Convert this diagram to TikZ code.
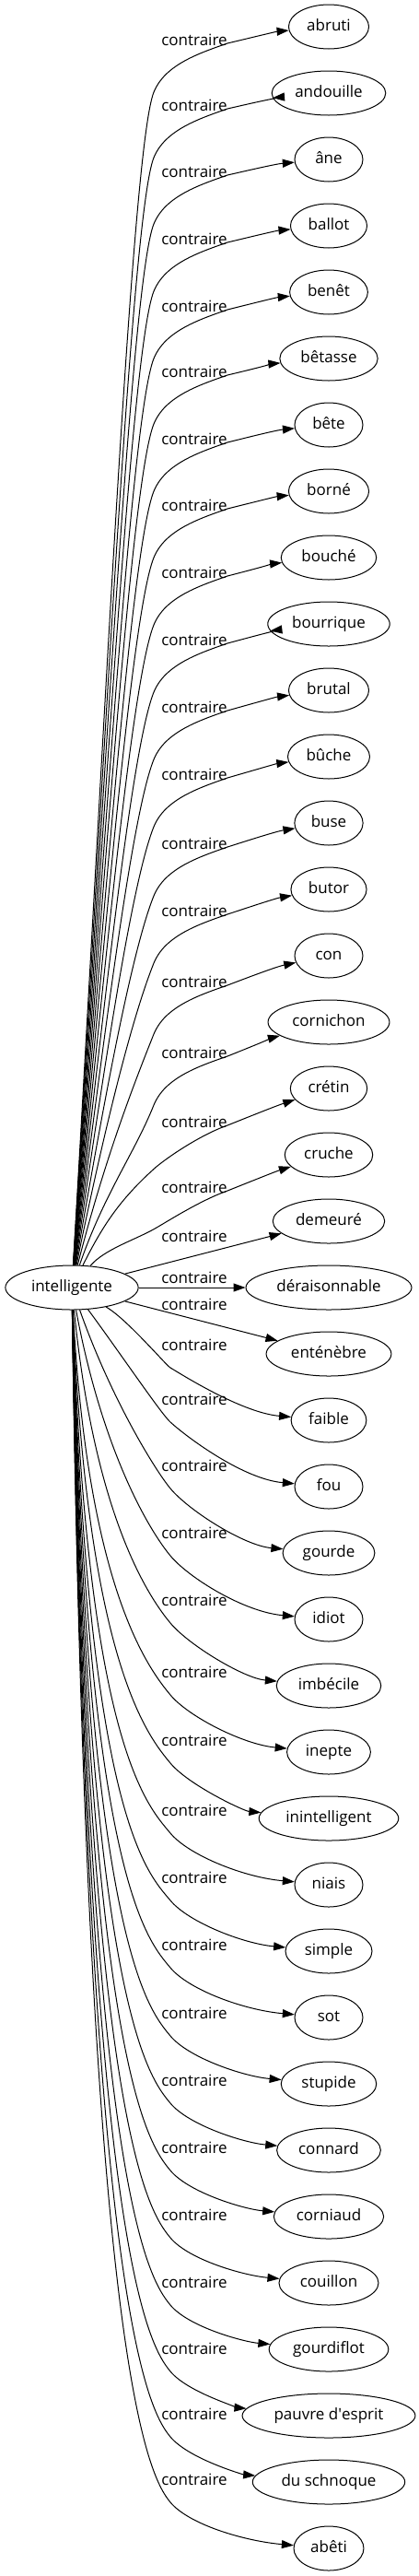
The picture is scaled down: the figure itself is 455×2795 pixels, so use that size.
\documentclass[tikz,border=0pt]{standalone}
\usepackage{fontspec}
\setmainfont{Open Sans}
\usetikzlibrary{arrows.meta,shapes.geometric}
\tikzset{
  mot/.style={draw, ellipse, line width=1pt, inner xsep=7pt, inner ysep=2pt,
    minimum width=74pt, minimum height=48pt, text height=12.5pt, text depth=3.5pt,
    font=\fontsize{17}{20}\selectfont},
  rel/.style={inner sep=0pt, font=\fontsize{17}{20}\selectfont},
  contra/.style={line width=1pt, -{Triangle[length=13pt,width=9pt]}}
}

\begin{document}
\begin{tikzpicture}[x=1pt, y=-1pt]
  \useasboundingbox (0,0) rectangle (455,2795);

  % source word
  \node[mot] (intelligente) at (78,1397) {intelligente};

  % opposites, top to bottom
  \node[mot] (abruti) at (357,29) {abruti};
  \node[mot] (andouille) at (357,101) {andouille};
  \node[mot] (ane) at (357,173) {âne};
  \node[mot] (ballot) at (357,245) {ballot};
  \node[mot] (benet) at (357,317) {benêt};
  \node[mot] (betasse) at (357,389) {bêtasse};
  \node[mot] (bete) at (357,461) {bête};
  \node[mot] (borne) at (357,533) {borné};
  \node[mot] (bouche) at (357,605) {bouché};
  \node[mot] (bourrique) at (357,677) {bourrique};
  \node[mot] (brutal) at (357,749) {brutal};
  \node[mot] (buche) at (357,821) {bûche};
  \node[mot] (buse) at (357,893) {buse};
  \node[mot] (butor) at (357,965) {butor};
  \node[mot] (con) at (357,1037) {con};
  \node[mot] (cornichon) at (357,1109) {cornichon};
  \node[mot] (cretin) at (357,1181) {crétin};
  \node[mot] (cruche) at (357,1253) {cruche};
  \node[mot] (demeure) at (357,1325) {demeuré};
  \node[mot] (deraisonnable) at (357,1397) {déraisonnable};
  \node[mot] (entenebre) at (357,1469) {enténèbre};
  \node[mot] (faible) at (357,1541) {faible};
  \node[mot] (fou) at (357,1613) {fou};
  \node[mot] (gourde) at (357,1685) {gourde};
  \node[mot] (idiot) at (357,1757) {idiot};
  \node[mot] (imbecile) at (357,1829) {imbécile};
  \node[mot] (inepte) at (357,1901) {inepte};
  \node[mot] (inintelligent) at (357,1973) {inintelligent};
  \node[mot] (niais) at (357,2045) {niais};
  \node[mot] (simple) at (357,2117) {simple};
  \node[mot] (sot) at (357,2189) {sot};
  \node[mot] (stupide) at (357,2261) {stupide};
  \node[mot] (connard) at (357,2333) {connard};
  \node[mot] (corniaud) at (357,2405) {corniaud};
  \node[mot] (couillon) at (357,2477) {couillon};
  \node[mot] (gourdiflot) at (357,2549) {gourdiflot};
  \node[mot] (pauvre) at (357,2621) {pauvre d\textquotesingle esprit};
  \node[mot] (schnoque) at (357,2693) {du schnoque};
  \node[mot] (abeti) at (357,2765) {abêti};

  % edges going up
  \foreach \cible/\cy/\ry in {abruti/29/43, andouille/101/114, ane/173/186,
      ballot/245/259, benet/317/332, betasse/389/403, bete/461/476, borne/533/548,
      bouche/605/621, bourrique/677/694, brutal/749/767, buche/821/840, buse/893/915,
      butor/965/988, con/1037/1065, cornichon/1109/1142, cretin/1181/1217,
      cruche/1253/1288}{
    \node[rel] (c-\cible) at (211,\ry) {contraire};
    \pgfmathsetmacro{\dd}{1397-\ry}
    \pgfmathsetmacro{\tx}{0.4+max(0,250-\dd)*0.01}
    \pgfmathsetmacro{\bby}{\ry+57-max(0,250-\dd)*0.08}
    \pgfmathsetmacro{\hh}{min(60,0.3*(1374-\bby))}
    \pgfmathsetmacro{\ay}{1374-0.45*(1374-\bby)}
    \pgfmathsetmacro{\px}{167-\hh*\tx}
    \pgfmathsetmacro{\py}{\bby+\hh}
    \pgfmathsetmacro{\qy}{\bby-12/\tx}
    \pgfmathsetmacro{\sl}{min(0.4,(\ry-\cy)/100+0.1)}
    \pgfmathsetmacro{\ra}{\ry+4-20*\sl}
    \pgfmathsetmacro{\rb}{\ry+4-53*\sl}
    \draw[contra] (intelligente) .. controls (113,\ay) and (\px,\py) .. (167,\bby)
      .. controls (179,\qy) and (217,\ry+14.5) .. (247,\ry+4)
      .. controls (267,\ra) and (300,\rb) .. (\cible);
  }

  % the three middle edges
  \node[rel] (c-demeure) at (211,1341) {contraire};
  \node[rel] (c-deraisonnable) at (211,1386) {contraire};
  \node[rel] (c-entenebre) at (211,1415) {contraire};
  \draw[contra] (intelligente) -- (demeure);
  \draw[contra] (intelligente) -- (deraisonnable);
  \draw[contra] (intelligente) -- (entenebre);

  % edges going down
  \foreach \cible/\cy/\ry in {faible/1541/1459, fou/1613/1518, gourde/1685/1590,
      idiot/1757/1663, imbecile/1829/1736, inepte/1901/1814, inintelligent/1973/1888,
      niais/2045/1964, simple/2117/2037, sot/2189/2110, stupide/2261/2184,
      connard/2333/2257, corniaud/2405/2330, couillon/2477/2403, gourdiflot/2549/2476,
      pauvre/2621/2548, schnoque/2693/2619, abeti/2765/2690}{
    \node[rel] (c-\cible) at (211,\ry) {contraire};
    \pgfmathsetmacro{\dd}{\ry-1397}
    \pgfmathsetmacro{\ax}{95+50*max(0,1-\dd/400)}
    \pgfmathsetmacro{\ay}{1397+(0.5+0.4*min(1,\dd/600))*\dd}
    \pgfmathsetmacro{\ss}{25*min(1,\dd/300)}
    \pgfmathsetmacro{\kk}{min(1.2,0.3+\dd/200)}
    \pgfmathsetmacro{\px}{185-\ss}
    \pgfmathsetmacro{\py}{\ry+25-\ss*\kk}
    \pgfmathsetmacro{\qa}{\ry+25+20*\kk}
    \draw[contra] (intelligente) .. controls (\ax,\ay) and (\px,\py) .. (185,\ry+25)
      .. controls (205,\qa) and (265,\cy-8) .. (\cible);
  }
\end{tikzpicture}
\end{document}
